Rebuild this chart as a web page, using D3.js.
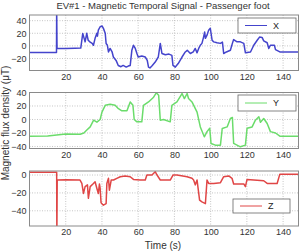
<!DOCTYPE html>
<html lang="en">
<head>
    <meta charset="UTF-8">
    <title>EV#1 - Magnetic Temporal Signal</title>
    <style>
        body{ margin:0; background:#fff; }
        svg{ display:block; }
        .axis text{ font-family:"Liberation Sans", Arial, sans-serif; font-size:9px; fill:#333; }
        .grid line{ stroke:#b8b8b8; stroke-width:.8px; stroke-dasharray:1 1.5; }
        .frame{ fill:none; stroke:#8a8a8a; stroke-width:1px; }
        .legend rect{ fill:#fff; stroke:#666; stroke-width:.8px; }
        .legend text{ font-family:"Liberation Sans", Arial, sans-serif; font-size:9px; fill:#222; }
        .label{ font-family:"Liberation Sans", Arial, sans-serif; font-size:9.5px; fill:#333; }
    </style>
    <script src="https://cdnjs.cloudflare.com/ajax/libs/d3/7.8.5/d3.min.js"></script>
</head>
<body>
<script>
    // time (s) and field (uT)
    const timeX = [0,14.9,15.0,15.2,20,25,28.3,29.4,30.7,31.6,32.4,33.5,34.6,35.3,36.2,37.2,37.5,38,39,40.1,40.8,41.8,42.3,43,43.6,44.5,45.6,46.3,47.8,49,50.5,51.7,53.4,54.5,55.6,56.5,57.4,58.4,59.3,60,62,63.9,65,65.7,66.5,67.8,69.4,71.1,72.2,73.1,75,77,78.6,79.2,80.5,82.1,84.2,86,87.1,88.8,90.4,91.5,92.5,93.4,94.3,95.2,96.1,96.7,97.1,98,98.9,99.8,100.8,101.7,103.5,105.4,106.5,107.2,108.7,110.9,112,112.7,114.6,116.4,118.3,119.2,122,123.8,125.7,127,128.4,129.3,131.2,132.1,133,135.2,135.8,138.2,148.5];
    const fieldX = [-10.5,-10.5,60,-4,-4.2,-3.8,-3.5,19.8,6.4,20,9,6,4,1,12,20,15.5,25,30.4,31.5,27.8,20,3.8,1,-9.6,-4,-9.6,-17.6,-23,-31,-33,-31,-33.6,-32,-31,-7,1,-4,-12,-17.6,-16,-17.6,-23,-33.6,-35,-31,-25.6,-17.6,4,-12,-14,-13,-15,-31,-33.6,-28,-17.6,-9.6,-7,-12,-9.6,-4,-11,-4,1,4,14,22,12,17,25,28,9,6.4,5,4,6,-12,-9.6,-7,4,10,6.4,6.4,4,-11,-9.6,1,9,14,13.5,8,5,-4,1,1,-5.8,-9.6,-9.6];

    const timeY = [0,10,15,20,28,30,31.5,33.5,35.4,37.2,39,40,41.8,44.5,47.3,49.1,51,53.8,55.6,57.1,57.8,59.3,62,62.9,65.7,68.5,70,71.3,72.2,74,77.7,78.6,81.4,84.2,85.5,87,87.8,89.7,92.5,94.3,96.5,98,99.5,100.2,102.6,105.4,106.4,109.1,110.9,112,112.7,116.4,119.2,120.1,122.9,124.7,126.6,127.5,129.3,131.2,133,135.8,138.2,148.5];
    const fieldY = [-25,-24.5,-23,-21.5,-21.8,-20,-16,-11,-1,-4,0,11,21,22.6,21,16,12.8,12.8,26,21,0,-3.5,-3.5,21,26,33,39.5,36,-1,0,-3.5,21,26,38.5,31,38.5,31,26,11,-11,-25.7,-18,-13,-35.5,-38,-38,-13.3,-11,1.5,3,-35.5,-40.5,-38,-13,-11,-1,4,-4,1.5,-6,-18,-20,-24.7,-24.7];

    const timeZ = [0,15.0,15.1,15.3,20,27.9,28.9,29.8,30.7,32,32.5,33.5,35.3,36.2,37.2,38,38.6,39,39.5,40.8,42.3,42.7,43.6,44.1,45.1,46.4,48.2,50.1,52.8,55.6,57.4,61.1,63.9,64.8,67.6,69.4,70.4,72.2,77.7,79.2,81.4,87,89.7,90.6,91.5,92.5,93.9,95.2,97.1,98,98.9,101.7,105.4,107.2,110,111.8,112.7,118.3,119.2,120.1,123.8,129.3,131.2,136.7,138.2,148.5];
    const fieldZ = [3,3,-70,-5.6,-5.4,-5.6,-9.4,-20.6,-13,-11,-26,-13,-9.4,-7.5,-15,-20.6,-10,-15,-31,-33.7,-32,-9.4,-3.7,-16.9,-5.6,-5.6,-3.7,-1.9,-1,-1.9,-4.9,-5.6,-5.6,0,0,3.7,0,-5.6,-5.6,0,0,-1.9,-3.7,-5.6,-11,-5.6,-28,-30,-32,-5.6,-9.4,-9.4,-8.6,-1.9,-1,-3.7,-10,-10,-13,-4.9,-5.6,-6.4,-9.4,-9.4,1,1];

    const timeTicks = [20,40,60,80,100,120,140];
    const ticksX = [-20,0,20,40];
    const ticksY = [-40,-20,0,20,40];
    const ticksZ = [-40,-20,0];
    const seriesNames = ["X","Y","Z"];

    const width = 300, height = 251;
    const left = 29.5, right = 298.5;

    const panels = [
        {name:"X", t:timeX, v:fieldX, ticks:ticksX, domain:[-39,49], top:15, bottom:70.5, color:"#4444cc", leg:[238,18,58,15]},
        {name:"Y", t:timeY, v:fieldY, ticks:ticksY, domain:[-43,40], top:92.5, bottom:148.5, color:"#6bdc6b", leg:[238,95,58,16]},
        {name:"Z", t:timeZ, v:fieldZ, ticks:ticksZ, domain:[-57,4.5], top:171, bottom:226, color:"#e04646", leg:[233,199,57,14]}
    ];

    const svg = d3.select("body").append("svg")
        .attr("width",width).attr("height",height)
        .attr("viewBox",`0,0,${width},${height}`);

    const xScale = d3.scaleLinear().domain([0,148.5]).range([left,right]);

    panels.forEach((p,i)=>{
        const yScale = d3.scaleLinear().domain(p.domain).range([p.bottom,p.top]);
        const g = svg.append("g");

        // grid
        const grid = g.append("g").attr("class","grid");
        grid.selectAll(".gx").data(timeTicks).enter().append("line")
            .attr("x1",d=>xScale(d)).attr("x2",d=>xScale(d))
            .attr("y1",p.top).attr("y2",p.bottom);
        grid.selectAll(".gy").data(p.ticks).enter().append("line")
            .attr("x1",left).attr("x2",right)
            .attr("y1",d=>yScale(d)).attr("y2",d=>yScale(d));

        // axes
        g.append("g").attr("class","axis")
            .attr("transform",`translate(0,${p.bottom})`)
            .call(d3.axisBottom(xScale).tickValues(timeTicks).tickSize(0).tickPadding(3))
            .call(a=>a.select(".domain").remove());
        g.append("g").attr("class","axis")
            .attr("transform",`translate(${left},0)`)
            .call(d3.axisLeft(yScale).tickValues(p.ticks).tickSize(0).tickPadding(3))
            .call(a=>a.select(".domain").remove());

        // clip + line
        g.append("clipPath").attr("id","clip"+i)
            .append("rect").attr("x",left).attr("y",p.top)
            .attr("width",right-left).attr("height",p.bottom-p.top);

        const lineGen = d3.line()
            .x((d,k)=>xScale(p.t[k]))
            .y(d=>yScale(d));

        g.append("path")
            .datum(p.v)
            .attr("clip-path",`url(#clip${i})`)
            .attr("fill","none")
            .attr("stroke",p.color)
            .attr("stroke-width",1.5)
            .attr("stroke-linejoin","round")
            .attr("d",lineGen);

        g.append("rect").attr("class","frame")
            .attr("x",left).attr("y",p.top)
            .attr("width",right-left).attr("height",p.bottom-p.top);

        // legend
        const [lx,ly,lw,lh] = p.leg;
        const legend = g.append("g").attr("class","legend");
        legend.append("rect").attr("x",lx).attr("y",ly).attr("width",lw).attr("height",lh);
        legend.append("line")
            .attr("x1",lx+7).attr("x2",lx+29)
            .attr("y1",ly+lh/2).attr("y2",ly+lh/2)
            .attr("stroke",p.color).attr("stroke-width",1);
        legend.append("text")
            .attr("x",lx+35).attr("y",ly+lh/2).attr("dy","0.35em")
            .text(seriesNames[i]);
    });

    // title
    svg.append("text").attr("class","label")
        .attr("x",163).attr("y",9)
        .style("text-anchor","middle")
        .text("EV#1 - Magnetic Temporal Signal - Passenger foot");

    // y label
    svg.append("text").attr("class","label")
        .attr("transform","translate(9,123) rotate(-90)")
        .style("text-anchor","middle")
        .style("font-size","10px")
        .text("Magnetic flux density (\u03bcT)");

    // x label
    svg.append("text").attr("class","label")
        .attr("x",163).attr("y",249)
        .style("text-anchor","middle")
        .style("font-size","10px")
        .text("Time (s)");
</script>
</body>
</html>
